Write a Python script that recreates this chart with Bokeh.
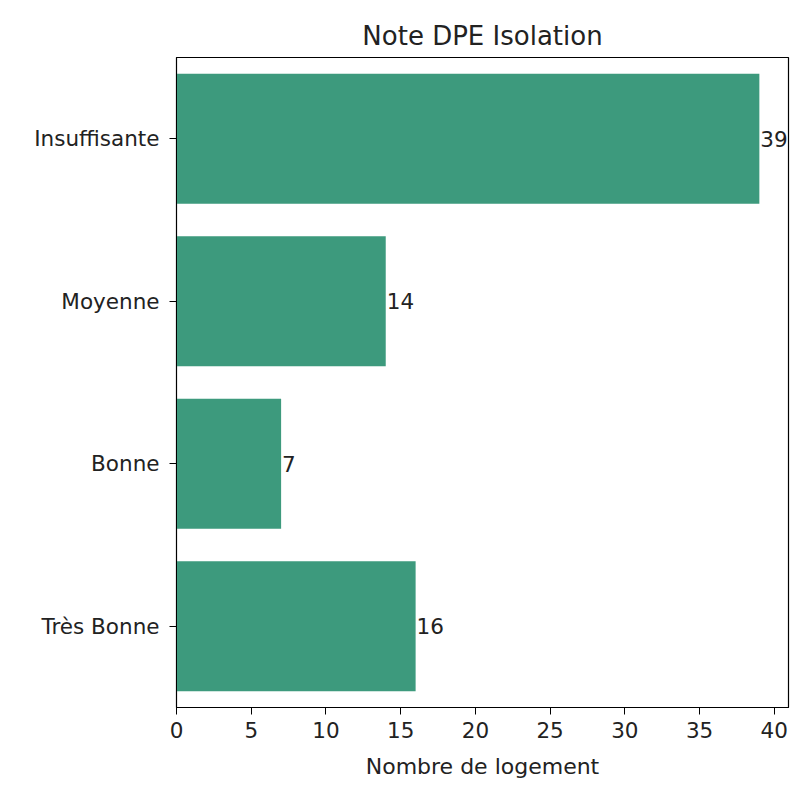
from bokeh.plotting import figure
from bokeh.models import FactorRange, Range1d, FixedTicker, ColumnDataSource
from bokeh.embed import file_html
from bokeh.resources import INLINE
from bokeh.core.properties import value

categories = ["Très Bonne", "Bonne", "Moyenne", "Insuffisante"]
counts = [16, 7, 14, 39]
x_ticks = [0, 5, 10, 15, 20, 25, 30, 35, 40]

FONT = "DejaVu Sans"
BAR_COLOR = "#3d9a7d"
TXT = "#222222"

src = ColumnDataSource(dict(cat=categories, n=counts, lab=[str(v) for v in counts]))

p = figure(
    width=792, height=789,
    y_range=FactorRange(factors=categories),
    x_range=Range1d(0, max(counts) * 1.05),
    output_backend="svg", toolbar_location=None,
    title="Note DPE Isolation",
    min_border_left=176, min_border_right=4, min_border_bottom=82, min_border_top=57,
)

p.hbar(y="cat", right="n", left=0, height=0.8, source=src,
       fill_color=BAR_COLOR, line_color=None)
p.text(x="n", y="cat", text="lab", source=src, x_offset=1,
       text_baseline="middle", text_align="left",
       text_font=value(FONT), text_font_size="21.5px", text_color=TXT)

p.title.align = "center"
p.title.text_font = FONT
p.title.text_font_size = "26px"
p.title.text_font_style = "normal"
p.title.text_color = TXT
p.title.standoff = 13

p.xgrid.visible = False
p.ygrid.visible = False
p.outline_line_color = "black"
p.outline_line_width = 1.2
p.outline_line_alpha = 1

p.xaxis.ticker = FixedTicker(ticks=x_ticks)
p.xaxis.axis_label = "Nombre de logement"
for ax in (p.xaxis, p.yaxis):
    ax.axis_line_color = "black"
    ax.major_tick_line_color = "black"
    ax.minor_tick_line_color = None
    ax.major_tick_out = 7
    ax.major_tick_in = 0
    ax.major_label_text_font = FONT
    ax.major_label_text_font_size = "21.5px"
    ax.major_label_text_color = TXT
    ax.axis_label_text_font = FONT
    ax.axis_label_text_font_size = "22px"
    ax.axis_label_text_font_style = "normal"
    ax.axis_label_text_color = TXT

p.xaxis.major_label_standoff = 7
p.yaxis.major_label_standoff = 10
p.xaxis.axis_label_standoff = 13

open("out.html", "w").write(file_html(p, INLINE))
